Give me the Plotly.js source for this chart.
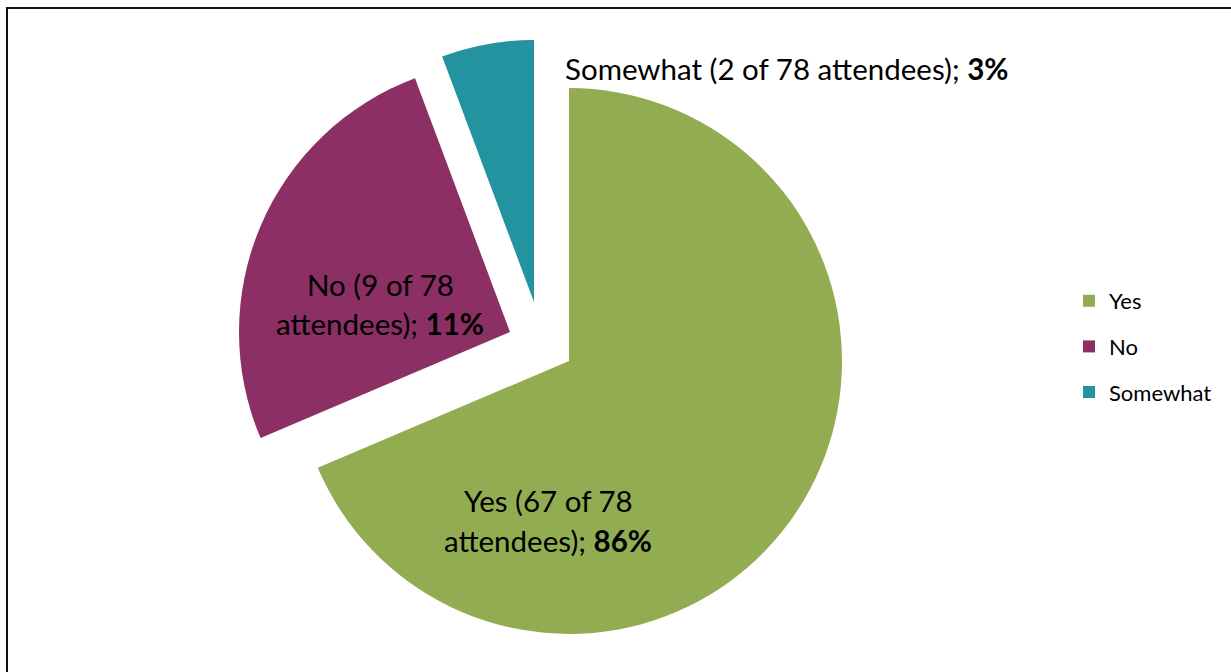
<!DOCTYPE html>
<html><head><meta charset="utf-8">
<script src="https://cdn.plot.ly/plotly-3.0.1.min.js"></script>
<style>html,body{margin:0;padding:0;background:#fff;overflow:hidden}#chart{width:1231px;height:672px}</style>
</head><body><div id="chart"></div>
<script>
// ---- data ----
const categories = ['Yes', 'No', 'Somewhat'];
const attendees = [67, 9, 2];
const totalAttendees = 78;
const percentLabels = [86, 11, 3];
// slice sizes as drawn in the picture
const sliceShares = [68.6, 25.7, 5.7];

// ---- style / layout ----
const colors = ['#92AD51', '#8B2F64', '#22939F'];
const W = 1231, H = 672;
const sliceGeom = [
  {cx: 569, cy: 361, r: 273},
  {cx: 510, cy: 332, r: 271},
  {cx: 534, cy: 302, r: 262}
];
const labelPos = [
  {x: 548, y: [500, 540], split: true},
  {x: 380, y: [284, 323], split: true},
  {x: 786, y: [69], split: false}
];
const FONT = 'Lato, "Open Sans", sans-serif';

function domainFor(g) {
  return {x: [(g.cx - g.r) / W, (g.cx + g.r) / W],
          y: [1 - (g.cy + g.r) / H, 1 - (g.cy - g.r) / H]};
}

const data = [];
// legend entries (tiny pies hidden under the Yes slice)
categories.forEach((c, i) => {
  data.push({
    type: 'pie', values: [1], labels: [c], marker: {colors: [colors[i]]},
    textinfo: 'none', hoverinfo: 'skip', showlegend: true, legendgroup: 'g' + i,
    domain: {x: [700 / W, 700.5 / W], y: [1 - 450.5 / H, 1 - 450 / H]}, sort: false
  });
});
// each slice in its (exploded) position
categories.forEach((c, i) => {
  data.push({
    type: 'pie', values: sliceShares, labels: categories, sort: false,
    direction: 'clockwise', rotation: 0,
    marker: {colors: colors.map((col, j) => j === i ? col : 'rgba(0,0,0,0)')},
    textinfo: 'none', showlegend: false, hoverinfo: 'label',
    domain: domainFor(sliceGeom[i])
  });
});

const annotations = [];
categories.forEach((c, i) => {
  const p = labelPos[i];
  const head = `${c} (${attendees[i]} of ${totalAttendees}`;
  const tail = `attendees); <b>${percentLabels[i]}%</b>`;
  const lines = p.split ? [head, tail] : [head + ' ' + tail];
  lines.forEach((t, k) => {
    annotations.push({
      xref: 'paper', yref: 'paper', x: p.x / W, y: 1 - p.y[k] / H,
      xanchor: 'center', yanchor: 'middle', showarrow: false, text: t,
      font: {family: FONT, size: 29.5, color: '#000'}
    });
  });
});

const layout = {
  width: W, height: H,
  margin: {l: 0, r: 0, t: 0, b: 0},
  paper_bgcolor: '#fff',
  showlegend: true,
  legend: {
    x: 1069 / W, xanchor: 'left', y: 1 - 346.5 / H, yanchor: 'middle',
    traceorder: 'grouped', tracegroupgap: 14,
    font: {family: FONT, size: 22, color: '#000'}, bgcolor: 'rgba(0,0,0,0)'
  },
  annotations: annotations,
  shapes: [{
    type: 'rect', xref: 'paper', yref: 'paper',
    x0: 7 / W, x1: 1.02, y0: -0.02, y1: 1 - 8 / H,
    line: {color: '#111', width: 2}, fillcolor: 'rgba(0,0,0,0)'
  }]
};

Plotly.newPlot('chart', data, layout, {displayModeBar: false});
</script></body></html>
